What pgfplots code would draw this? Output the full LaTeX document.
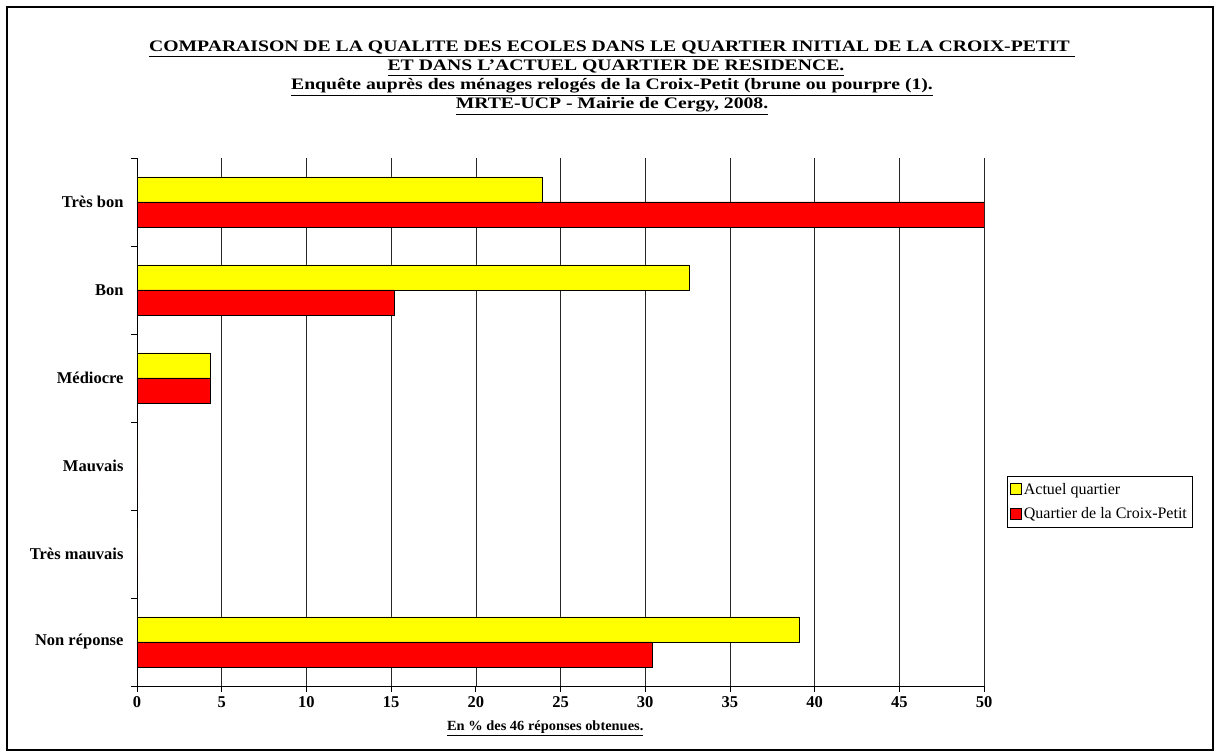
\documentclass[border=0pt]{standalone}
\usepackage{fontspec}
\setmainfont{Liberation Serif}
\usepackage{pgfplots}
\pgfplotsset{compat=1.18}
\definecolor{yel}{RGB}{255,255,0}
\definecolor{myred}{RGB}{255,0,0}
\newcommand{\tl}[1]{\underline{\scalebox{1.23}[1]{#1}}}
\begin{document}
\begin{tikzpicture}[x=1pt,y=1pt]
\path[use as bounding box] (0,0) rectangle (1216,755);
\draw[line width=2pt] (7,5) rectangle (1213,748);
\begin{scope}[every node/.style={font=\fontsize{16}{18}\selectfont\bfseries, anchor=base, inner sep=0pt}]
\node at (612,703) {\tl{COMPARAISON DE LA QUALITE DES ECOLES DANS LE QUARTIER INITIAL DE LA CROIX-PETIT\ }};
\node at (616,684) {\tl{ET DANS L'ACTUEL QUARTIER DE RESIDENCE.}};
\node at (612,665) {\tl{Enquête auprès des ménages relogés de la Croix-Petit (brune ou pourpre (1).}};
\node at (612,646) {\tl{MRTE-UCP - Mairie de Cergy, 2008.}};
\end{scope}
\begin{axis}[
  at={(137pt,69pt)}, anchor=south west,
  scale only axis, width=847pt, height=528pt,
  xbar, bar width=25pt,
  xmin=0, xmax=50, ymin=-0.5, ymax=5.5,
  axis x line*=bottom, axis y line*=left,
  axis line style={black, line width=0.8pt},
  xtick={0,5,...,50},
  xmajorgrids, grid style={black!85, line width=0.6pt},
  ytick={0,1,2,3,4,5},
  yticklabels={Non réponse, Très mauvais, Mauvais, Médiocre, Bon, Très bon},
  minor ytick={-0.5,0.5,...,5.5},
  major y tick style={draw=none},
  minor y tick style={black, line width=0.8pt},
  major x tick style={black, line width=0.8pt},
  tick align=outside, major tick length=6pt, minor tick length=6pt,
  /pgf/number format/assume math mode=true,
  ticklabel style={font=\fontsize{16.5}{16.5}\selectfont\bfseries},
  yticklabel style={xshift=-4pt},
  xticklabel style={yshift=-1pt},
  xlabel={\underline{\scalebox{1.03}[1]{En \% des 46 réponses obtenues.}}},
  xlabel style={font=\fontsize{14}{14}\selectfont\bfseries, at={(axis description cs:0.482,-0.0795)}, anchor=center},
  legend style={at={(axis description cs:1.027,0.398)}, anchor=north west, draw=black, line width=0.8pt,
    font=\fontsize{16}{18}\selectfont, row sep=8pt, inner ysep=5pt, inner xsep=3pt},
  legend cell align=left,
  legend image code/.code={\draw[#1, draw=black, line width=0.6pt] (0pt,-5pt) rectangle (11pt,6pt);},
]
\addplot[fill=yel, draw=black, line width=0.6pt, bar shift=12.5pt] coordinates {(23.9,5) (32.6,4) (4.3,3) (0,2) (0,1) (39.1,0)};
\addplot[fill=myred, draw=black, line width=0.6pt, bar shift=-12.5pt] coordinates {(50,5) (15.2,4) (4.3,3) (0,2) (0,1) (30.4,0)};
\legend{Actuel quartier, Quartier de la Croix-Petit}
\end{axis}
\end{tikzpicture}
\end{document}
